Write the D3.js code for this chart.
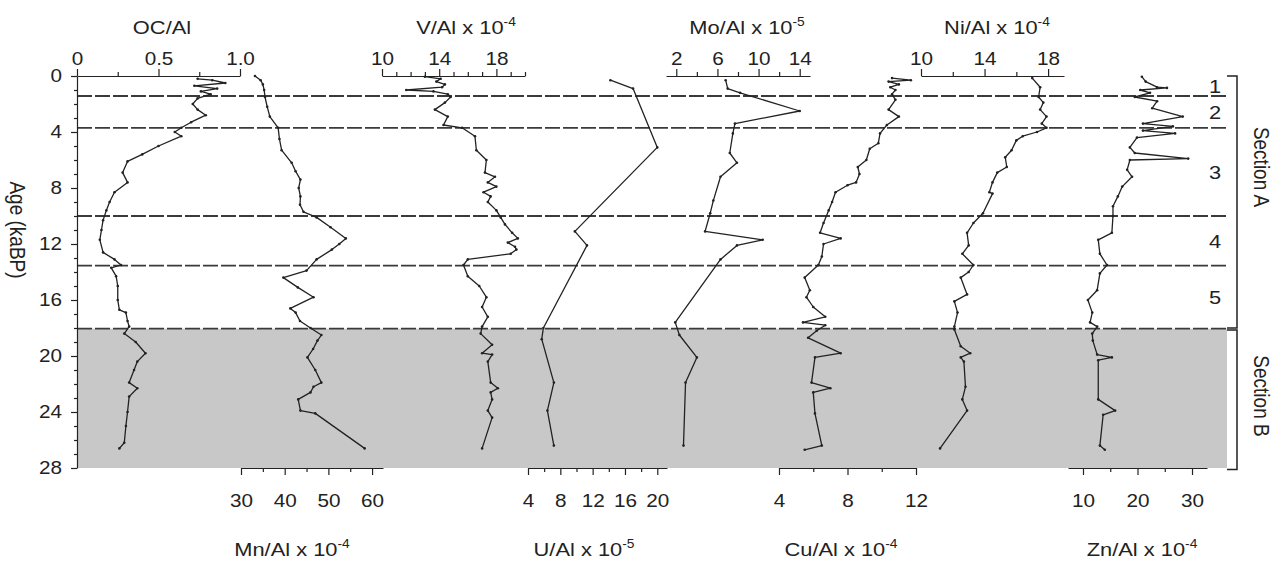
<!DOCTYPE html>
<html>
<head>
<meta charset="utf-8">
<script src="https://cdn.jsdelivr.net/npm/d3@7"></script>
<style>
  body { margin: 0; background: #fff; }
  svg { display: block; }
</style>
</head>
<body>
<div id="chart-area"></div>
<script>
// ---- DATA ----
const ocAge = [0.2,0.3,0.5,0.7,0.9,1.1,1.3,1.6,2.0,2.4,2.8,3.3,3.7,4.0,4.3,5.0,5.6,6.1,6.9,7.6,8.3,9.0,9.6,10.3,11.0,11.7,12.6,13.1,13.5,13.7,14.3,15.0,16.0,16.7,16.9,17.5,17.9,18.4,19.0,19.8,20.4,21.0,21.9,22.3,22.9,24.0,25.0,26.2,26.6];
const ocVal = [0.74,0.83,0.91,0.72,0.86,0.76,0.82,0.74,0.71,0.74,0.79,0.70,0.64,0.60,0.64,0.50,0.40,0.31,0.28,0.31,0.23,0.20,0.18,0.16,0.15,0.14,0.16,0.23,0.27,0.21,0.24,0.25,0.25,0.26,0.30,0.31,0.32,0.29,0.36,0.42,0.37,0.35,0.32,0.37,0.32,0.31,0.30,0.29,0.26];

const mnAge = [0.0,0.3,0.6,1.0,1.5,2.2,2.9,3.7,4.5,5.3,6.2,6.8,7.4,8.0,8.6,9.2,9.7,10.1,10.8,11.6,12.0,12.4,13.1,13.9,14.4,15.1,15.8,16.6,16.9,17.5,18.0,18.5,18.9,19.5,20.1,21.0,21.9,22.2,22.6,23.1,23.9,24.1,26.6];
const mnVal = [33.2,34.5,35.0,35.3,35.5,36.0,36.6,38.5,38.8,39.3,41.6,42.5,43.6,43.2,43.6,43.5,44.3,47.3,50.5,54.0,52.5,50.8,47.3,45.0,39.7,43.0,46.6,41.3,42.5,43.5,45.9,48.4,47.5,46.5,45.2,47.0,48.4,46.6,45.9,43.1,43.6,47.0,58.3];

const vAge = [0.05,0.2,0.4,0.6,0.8,1.0,1.1,1.3,1.5,1.9,2.4,2.9,3.5,3.7,4.3,5.3,6.0,6.9,7.2,7.6,7.9,8.3,8.6,9.0,9.6,10.1,10.6,11.2,11.6,11.9,12.2,12.4,12.7,13.1,13.5,14.3,15.0,15.8,16.5,17.2,17.9,18.4,19.2,19.8,19.9,20.4,21.9,22.3,22.6,23.1,23.9,24.4,26.6];
const vVal = [13.0,14.1,13.8,14.4,14.2,11.7,13.6,14.6,14.8,14.4,13.7,14.6,14.3,15.6,16.5,16.6,17.3,17.2,17.9,17.4,18.0,17.1,17.6,17.4,18.0,18.3,18.6,19.1,19.5,18.8,19.3,19.4,19.0,16.0,15.7,16.0,16.8,17.3,17.0,17.4,17.0,16.9,17.7,17.0,17.7,17.4,17.6,18.1,17.6,17.7,17.4,17.7,17.0];

const uAge = [0.3,0.9,5.1,11.1,12.1,18.0,18.8,21.9,23.9,26.4];
const uVal = [14.2,17.0,20.0,9.8,11.3,5.9,5.7,7.2,6.4,7.2];

const moAge = [0.3,0.9,1.2,2.5,3.4,4.1,5.5,6.2,7.2,8.9,9.8,11.1,11.7,12.1,13.1,17.6,18.5,20.1,21.9,26.4];
const moVal = [6.8,7.0,8.2,14.0,7.7,7.5,7.2,7.9,6.3,5.6,5.3,4.8,10.4,7.9,6.3,1.9,2.3,4.0,2.9,2.7];

const cuAge = [0.15,0.3,0.4,0.6,0.8,1.0,1.3,1.7,2.4,2.9,3.5,4.1,4.8,5.2,6.0,6.5,7.0,7.6,7.8,8.3,9.0,9.6,10.5,11.2,11.6,12.0,12.9,13.5,14.4,15.3,15.8,16.5,17.2,17.6,17.8,18.2,18.7,19.8,20.1,21.9,22.3,22.6,24.1,26.4,26.7];
const cuVal = [10.6,11.7,10.4,11.0,10.5,10.8,10.6,10.8,10.4,11.0,10.3,9.9,9.8,9.3,9.1,8.6,8.7,8.5,8.0,7.3,7.1,6.9,6.6,6.4,7.6,6.6,6.5,6.3,5.5,5.8,5.6,6.0,6.7,5.4,6.7,6.2,5.7,7.6,6.1,5.9,7.0,6.0,6.1,6.5,5.5];

const niAge = [0.15,0.8,1.5,1.9,2.4,2.9,3.4,3.7,4.0,4.3,4.6,5.3,5.8,6.5,6.9,7.6,8.3,8.4,9.8,10.5,11.2,12.1,12.7,13.5,14.0,14.4,15.6,16.1,16.9,17.9,18.1,19.3,19.8,20.1,20.4,22.2,23.1,23.9,26.6];
const niVal = [17.0,17.5,17.4,17.7,17.5,17.9,17.6,17.9,17.3,16.4,16.0,15.7,15.3,15.4,14.8,14.5,14.3,14.5,13.9,13.3,12.9,13.0,12.6,13.3,13.0,12.5,12.9,12.1,12.3,12.1,12.1,12.5,13.1,12.5,12.7,12.8,12.6,12.9,11.2];

const znAge = [0.05,0.4,0.8,0.85,1.0,1.2,1.5,1.8,2.3,2.9,3.4,3.6,3.9,4.1,4.4,5.1,5.5,5.9,6.0,6.7,7.2,7.9,8.6,9.3,10.0,11.2,11.7,12.7,13.5,14.1,15.3,16.0,16.9,17.6,17.9,18.4,18.9,19.9,20.1,20.3,23.1,23.9,24.2,26.4,26.7];
const znVal = [20.8,21.5,23.6,25.4,20.5,22.3,19.5,23.6,22.7,28.3,21.0,26.5,21.0,26.9,19.9,18.6,19.5,29.3,18.6,18.1,19.0,17.2,16.4,15.5,15.5,15.3,12.8,13.1,14.4,13.1,12.6,10.9,11.7,11.3,12.6,11.7,11.8,12.6,15.3,12.8,12.8,15.9,13.7,13.1,14.0];

// tick labels
const ageTicks = [0, 4, 8, 12, 16, 20, 24, 28];
const ocTicks = [0, 0.5, 1.0], ocTickLabels = ["0", "0.5", "1.0"];
const mnTicks = [30, 40, 50, 60];
const vTicks = [10, 14, 18];
const uTicks = [4, 8, 12, 16, 20];
const moTicks = [2, 6, 10, 14];
const cuTicks = [4, 8, 12];
const niTicks = [10, 14, 18];
const znTicks = [10, 20, 30];

// unit boundaries (ka BP) and labels
const boundaries = [1.43, 3.71, 10.0, 13.55, 18.05];
const unitLabels = ["1", "2", "3", "4", "5"];
const sectionB_start = 18.05;

// ---- LAYOUT ----
const W = 1281, H = 563;
const FONT = "'Liberation Sans', Arial, Helvetica, sans-serif";
const SX = 1.15;           // the source picture is a bit stretched horizontally
const INK = "#222";
const xLeft = 77, xRight = 1227;

const svg = d3.select("#chart-area").append("svg")
    .attr("width", W).attr("height", H)
    .style("font-family", FONT);

const y = d3.scaleLinear().domain([0, 28]).range([76, 468]);

// GREY SECTION B
svg.append("rect")
    .attr("x", xLeft).attr("y", y(sectionB_start))
    .attr("width", xRight - xLeft).attr("height", y(28) - y(sectionB_start))
    .attr("fill", "#c8c8c8");

// DASHED UNIT BOUNDARIES
svg.selectAll(".bound").data(boundaries).enter().append("line")
    .attr("class", "bound")
    .attr("x1", xLeft).attr("x2", xRight)
    .attr("y1", d => y(d)).attr("y2", d => y(d))
    .attr("stroke", "#3a3a3a").attr("stroke-width", 1.8)
    .attr("stroke-dasharray", "15,3");

// PANELS
const panels = [
    { base: "OC/Al", exp: null, age: ocAge, val: ocVal, dom: [0, 1], rng: [77, 240], side: "top", ticks: ocTicks, labels: ocTickLabels, minor: [0.25, 0.75], tx: 162 },
    { base: "Mn/Al x 10", exp: "-4", age: mnAge, val: mnVal, dom: [30, 62.5], rng: [241, 383], side: "bottom", ticks: mnTicks, minor: [35, 45, 55], tx: 292 },
    { base: "V/Al x 10", exp: "-4", age: vAge, val: vVal, dom: [10, 20], rng: [382, 525], side: "top", ticks: vTicks, minor: [11, 12, 13, 15, 16, 17, 19, 20], tx: 466 },
    { base: "U/Al x 10", exp: "-5", age: uAge, val: uVal, dom: [4, 21.2], rng: [528, 667], side: "bottom", ticks: uTicks, minor: [6, 10, 14, 18], tx: 584 },
    { base: "Mo/Al x 10", exp: "-5", age: moAge, val: moVal, dom: [1, 15], rng: [666, 810], side: "top", ticks: moTicks, minor: [4, 8, 12], tx: 747 },
    { base: "Cu/Al x 10", exp: "-4", age: cuAge, val: cuVal, dom: [4, 12], rng: [779, 916], side: "bottom", ticks: cuTicks, minor: [6, 10], tx: 841 },
    { base: "Ni/Al x 10", exp: "-4", age: niAge, val: niVal, dom: [10, 19], rng: [921, 1064], side: "top", ticks: niTicks, minor: [12, 16], tx: 997 },
    { base: "Zn/Al x 10", exp: "-4", age: znAge, val: znVal, dom: [7.25, 32.75], rng: [1068, 1207], side: "bottom", ticks: znTicks, minor: [15, 25], tx: 1142 }
];

function addTitle(x, yy, base, exp) {
    const t = svg.append("text")
        .attr("transform", "translate(" + x + "," + yy + ") scale(" + SX + ",1)")
        .attr("text-anchor", "middle")
        .attr("font-size", 19)
        .attr("fill", INK);
    t.append("tspan").text(base);
    if (exp) t.append("tspan").attr("font-size", 12).attr("dy", -8).text(exp);
}

function styleAxis(g, fs) {
    g.selectAll("path, line").attr("stroke", INK).attr("stroke-width", 1.2);
    g.selectAll("text")
        .attr("font-family", FONT).attr("font-size", fs).attr("fill", INK)
        .attr("transform", "scale(" + SX + ",1)");
}

panels.forEach(function (p) {
    const x = d3.scaleLinear().domain(p.dom).range(p.rng);
    const top = p.side === "top";
    const axY = top ? y(0) : y(28);

    // CURVE
    const pts = p.age.map((a, i) => [x(p.val[i]), y(a)]);
    svg.append("path")
        .attr("d", d3.line()(pts))
        .attr("fill", "none").attr("stroke", INK)
        .attr("stroke-width", 1.3).attr("stroke-linejoin", "round");
    svg.append("g").selectAll("circle").data(pts).enter().append("circle")
        .attr("cx", d => d[0]).attr("cy", d => d[1]).attr("r", 1.3).attr("fill", INK);

    // AXIS (major + minor)
    const mk = top ? d3.axisTop : d3.axisBottom;
    const major = mk(x).tickValues(p.ticks)
        .tickFormat((d, i) => p.labels ? p.labels[i] : d)
        .tickSize(7).tickPadding(top ? 4 : 19).tickSizeOuter(0);
    const minor = mk(x).tickValues(p.minor).tickFormat("")
        .tickSize(4).tickSizeOuter(0);

    svg.append("g").attr("transform", "translate(0," + axY + ")")
        .call(minor).call(g => g.select(".domain").remove())
        .call(g => styleAxis(g, 18));
    svg.append("g").attr("transform", "translate(0," + axY + ")")
        .call(major).call(g => styleAxis(g, 18));

    addTitle(p.tx, top ? 34 : 556, p.base, p.exp);
});

// AGE AXIS
const yMinor = d3.range(0, 29).filter(d => d % 4 !== 0);
svg.append("g").attr("transform", "translate(" + xLeft + ",0)")
    .call(d3.axisLeft(y).tickValues(yMinor).tickFormat("").tickSize(3).tickSizeOuter(0))
    .call(g => g.select(".domain").remove())
    .call(g => styleAxis(g, 18));
svg.append("g").attr("transform", "translate(" + xLeft + ",0)")
    .call(d3.axisLeft(y).tickValues(ageTicks).tickSize(6).tickPadding(7).tickSizeOuter(0))
    .call(g => styleAxis(g, 18));

svg.append("text")
    .attr("transform", "translate(18," + y(11) + ") scale(" + SX + ",1) rotate(90)")
    .attr("text-anchor", "middle").attr("dy", "0.35em")
    .attr("font-size", 19).attr("fill", INK)
    .text("Age (kaBP)");

// UNIT NUMBERS
const edges = [0].concat(boundaries);
svg.selectAll(".unit").data(unitLabels).enter().append("text")
    .attr("class", "unit")
    .attr("transform", (d, i) => "translate(1215," + y((edges[i] + edges[i + 1]) / 2) + ") scale(" + SX + ",1)")
    .attr("text-anchor", "middle").attr("dy", "0.35em")
    .attr("font-size", 19).attr("fill", INK)
    .text(d => d);

// SECTION BRACKETS
const bx0 = xRight, bx1 = 1237;
function bracket(a0, a1) {
    svg.append("path")
        .attr("d", "M" + bx0 + "," + y(a0) + "H" + bx1 + "V" + y(a1) + "H" + bx0)
        .attr("fill", "none").attr("stroke", INK).attr("stroke-width", 1.5);
}
bracket(0, 18.0);
bracket(18.15, 28.1);

[["Section A", 167], ["Section B", 396]].forEach(function (s) {
    svg.append("text")
        .attr("transform", "translate(1262," + s[1] + ") scale(" + SX + ",1) rotate(90)")
        .attr("text-anchor", "middle").attr("dy", "0.35em")
        .attr("font-size", 19).attr("fill", INK)
        .text(s[0]);
});
</script>
</body>
</html>
